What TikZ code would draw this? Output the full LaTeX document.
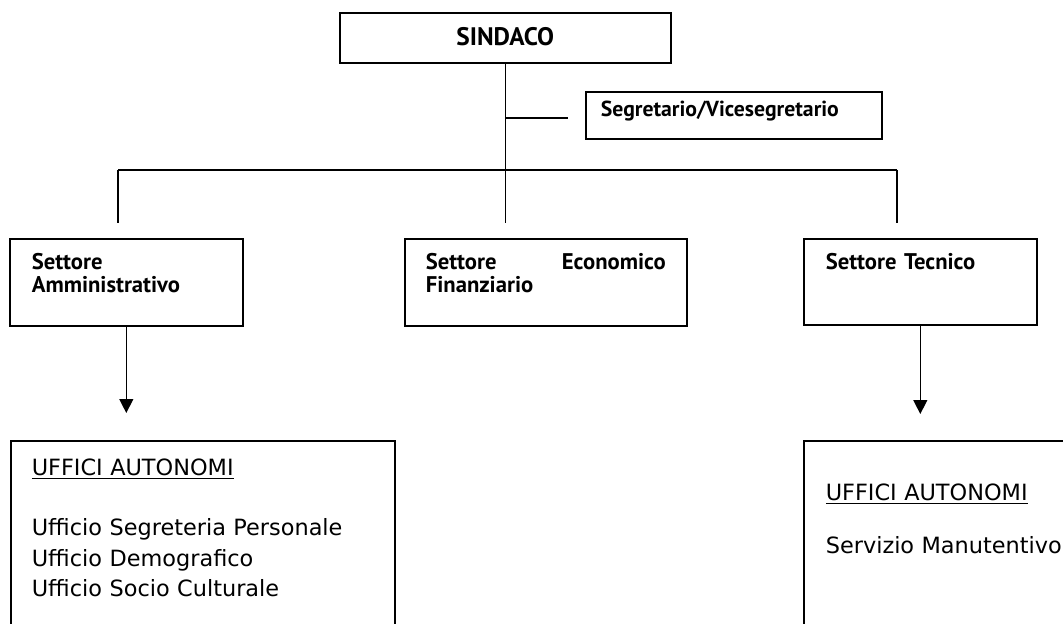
\documentclass[tikz,border=0pt]{standalone}
\usepackage{fontspec}
\usepackage{tikz}
\usetikzlibrary{positioning, arrows.meta}
\newfontfamily\headfont{PT Sans}
\newfontfamily\bodyfont{DejaVu Sans}

\begin{document}
\begin{tikzpicture}
    [
        x=0.75pt, y=-0.75pt,
        box_node/.style={draw=black, line width=1.2pt, anchor=north west, inner ysep=0pt, align=left},
        head_node/.style={box_node, font=\headfont\bfseries\fontsize{17pt}{17pt}\selectfont},
        ufficio_node/.style={box_node, font=\bodyfont\fontsize{16.8pt}{22.9pt}\selectfont},
        link/.style={line width=1pt, color=black},
        arrow_link/.style={link, -{Triangle[length=10.5pt, width=10.5pt]}},
    ]
        \useasboundingbox (0,0) rectangle (1063,624);
        \clip (0,0) rectangle (1063,624);
        \node[head_node, font=\headfont\bfseries\fontsize{19pt}{17pt}\selectfont, align=center, inner xsep=0pt, text width=248.25pt, text height=24.75pt, text depth=12.75pt] (sindaco) at (339,12) {SINDACO};
        \node[head_node, font=\headfont\bfseries\fontsize{16.3pt}{17pt}\selectfont, inner xsep=11.25pt, text width=199.5pt, text height=18.75pt, text depth=16.5pt] (segretario) at (585,91) {Segretario/Vicesegretario};
        \node[head_node, inner xsep=16.5pt, text width=141.75pt, text height=23.25pt, text depth=42pt] (admin) at (9,238) {Settore\\Amministrativo};
        \node[head_node, inner xsep=15.75pt, text width=180pt, text height=23.25pt, text depth=42pt] (economico) at (404,238) {Settore\hfill Economico\\Finanziario};
        \node[head_node, inner xsep=16.5pt, text width=141.75pt, text height=23.25pt, text depth=41.25pt] (tecnico) at (803,238) {Settore Tecnico};
        \node[ufficio_node, inner xsep=15.75pt, text width=256.5pt, text height=26.25pt, text depth=153.75pt] (ufficiA) at (10,440) {\underline{UFFICI AUTONOMI}\\[22.1pt]Ufficio Segreteria Personale\\Ufficio Demografico\\Ufficio Socio Culturale};
        \node[ufficio_node, inner xsep=16.5pt, text width=192pt, text height=45pt, text depth=135pt] (ufficiT) at (803,440) {\underline{UFFICI AUTONOMI}\\[16.85pt]Servizio Manutentivo};
        \coordinate (hubS) at (505,118) ;
        \coordinate (hubL) at (118,170) ;
        \coordinate (hubR) at (897,170) ;
        \draw[link, shorten >=11.25pt] (sindaco.south) to (sindaco.south |- economico.north) ;
        \draw[link, shorten >=12.75pt] (hubS) to (hubS -| segretario.west) ;
        \draw[link] (hubL) to (hubR) ;
        \draw[link, shorten >=11.25pt] (hubL) to (hubL |- admin.north) ;
        \draw[link, shorten >=11.25pt] (hubR) to (hubR |- tecnico.north) ;
        \draw[arrow_link, shorten >=20.25pt] (admin.south) to (admin.south |- ufficiA.north) ;
        \draw[arrow_link, shorten >=19.5pt] (tecnico.south) to (tecnico.south |- ufficiT.north) ;
    \end{tikzpicture}
\end{document}
